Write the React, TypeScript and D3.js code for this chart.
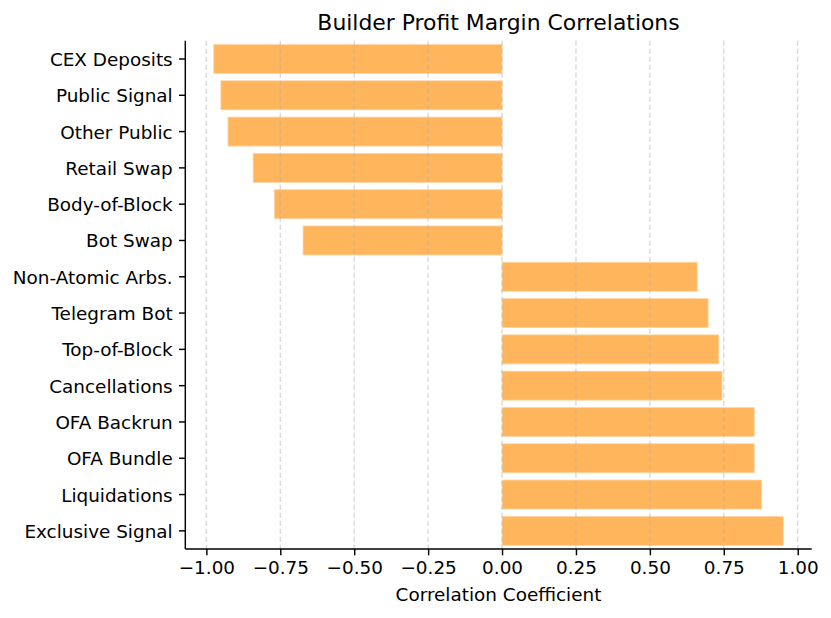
import { useEffect, useRef } from 'react';
import * as d3 from 'd3';

// Builder profit margin correlations (top to bottom)
const categories = [
  'CEX Deposits',
  'Public Signal',
  'Other Public',
  'Retail Swap',
  'Body-of-Block',
  'Bot Swap',
  'Non-Atomic Arbs.',
  'Telegram Bot',
  'Top-of-Block',
  'Cancellations',
  'OFA Backrun',
  'OFA Bundle',
  'Liquidations',
  'Exclusive Signal',
];

const correlations = [
  -0.975, -0.951, -0.927, -0.842, -0.77, -0.673,
  0.66, 0.697, 0.733, 0.744, 0.853, 0.853, 0.878, 0.951,
];

const xTicks = [-1.0, -0.75, -0.5, -0.25, 0, 0.25, 0.5, 0.75, 1.0];

const title = 'Builder Profit Margin Correlations';
const xLabel = 'Correlation Coefficient';

export default function App() {
  const svgRef = useRef<SVGSVGElement>(null);

  useEffect(() => {
    if (!svgRef.current) return;

    const width = 831;
    const height = 618;
    const margin = { top: 40.85, right: 19.3, bottom: 69, left: 185.3 };
    const innerWidth = width - margin.left - margin.right;
    const innerHeight = height - margin.top - margin.bottom;
    const font = '"DejaVu Sans", sans-serif';
    const tickFont = '18.4px';

    const svg = d3.select(svgRef.current);
    svg.selectAll('*').remove();
    svg.attr('width', width).attr('height', height);

    const g = svg
      .append('g')
      .attr('transform', `translate(${margin.left},${margin.top})`);

    // matplotlib-like 5% padding on the value axis
    const lo = d3.min(correlations) || 0;
    const hi = d3.max(correlations) || 0;
    const pad = (hi - lo) * 0.05;

    const xScale = d3
      .scaleLinear()
      .domain([lo - pad, hi + pad])
      .range([0, innerWidth]);

    const yScale = d3
      .scaleBand()
      .domain(categories)
      .range([0, innerHeight])
      .paddingInner(0.2)
      .paddingOuter(0.1);

    // Bars
    g.selectAll('rect.bar')
      .data(categories)
      .enter()
      .append('rect')
      .attr('class', 'bar')
      .attr('x', (_, i) => Math.min(xScale(0), xScale(correlations[i])))
      .attr('y', (d) => yScale(d) || 0)
      .attr('width', (_, i) => Math.abs(xScale(correlations[i]) - xScale(0)))
      .attr('height', yScale.bandwidth())
      .attr('fill', '#ffb55b')
      .attr('stroke', '#ffd6a6')
      .attr('stroke-width', 0.8);

    // Grid (drawn on top, like the reference)
    g.selectAll('line.grid')
      .data(xTicks)
      .enter()
      .append('line')
      .attr('class', 'grid')
      .attr('x1', (d) => xScale(d))
      .attr('x2', (d) => xScale(d))
      .attr('y1', 0)
      .attr('y2', innerHeight)
      .attr('stroke', '#b0b0b0')
      .attr('stroke-opacity', 0.5)
      .attr('stroke-width', 1.3)
      .attr('stroke-dasharray', '5,3');

    // X axis
    const xAxis = g
      .append('g')
      .attr('transform', `translate(0,${innerHeight})`)
      .call(
        d3
          .axisBottom(xScale)
          .tickValues(xTicks)
          .tickSize(6.3)
          .tickPadding(6)
          .tickFormat((d) => d3.format('.2f')(d as number).replace('-', '\u2212'))
      );
    xAxis.select('.domain').attr('stroke', '#000').attr('stroke-width', 1.44).attr('d', `M0,0H${innerWidth}`);
    xAxis.selectAll('.tick line').attr('stroke', '#000').attr('stroke-width', 1.44);
    xAxis
      .selectAll('text')
      .attr('fill', '#000')
      .attr('font-family', font)
      .attr('font-size', tickFont);

    // Y axis
    const yAxis = g
      .append('g')
      .call(d3.axisLeft(yScale).tickSize(6.3).tickPadding(6.3));
    yAxis.select('.domain').attr('stroke', '#000').attr('stroke-width', 1.44).attr('d', `M0,0V${innerHeight}`);
    yAxis.selectAll('.tick line').attr('stroke', '#000').attr('stroke-width', 1.44);
    yAxis
      .selectAll('text')
      .attr('fill', '#000')
      .attr('font-family', font)
      .attr('font-size', tickFont)
      .attr('dy', '0.38em');

    // Axis label
    g.append('text')
      .attr('x', innerWidth / 2)
      .attr('y', innerHeight + 52)
      .style('text-anchor', 'middle')
      .attr('fill', '#000')
      .attr('font-family', font)
      .attr('font-size', tickFont)
      .text(xLabel);

    // Title
    svg
      .append('text')
      .attr('x', margin.left + innerWidth / 2)
      .attr('y', 30)
      .style('text-anchor', 'middle')
      .attr('fill', '#000')
      .attr('font-family', font)
      .attr('font-size', '21.9px')
      .text(title);
  }, []);

  return (
    <div style={{ position: 'absolute', left: 0, top: 0 }}>
      <svg ref={svgRef} style={{ display: 'block', background: '#fff' }} />
    </div>
  );
}
